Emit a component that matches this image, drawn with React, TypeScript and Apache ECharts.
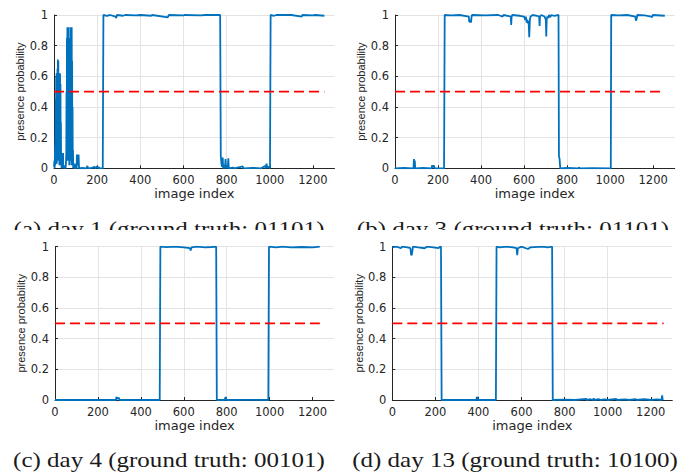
import React, { useEffect, useRef } from "react";
import * as echarts from "echarts";

// ---------- data ----------
const captions = [
  "(a) day 1 (ground truth: 01101)",
  "(b) day 3 (ground truth: 01101)",
  "(c) day 4 (ground truth: 00101)",
  "(d) day 13 (ground truth: 10100)",
];
const thresholdValue = 0.5;
const imageCounts = [1253, 1254, 1234, 1260];

const day1Prob: [number, number][] = [
  [0, 0.01], [2, 0.05], [3, 0.0], [5, 0.15], [6, 0.02], [8, 0.45], [9, 0.05], [10, 0.6], [11, 0.1], [12, 0.62],
  [13, 0.03], [14, 0.58], [15, 0.2], [16, 0.65], [17, 0.1], [18, 0.71], [19, 0.3], [20, 0.7], [21, 0.05], [22, 0.62],
  [23, 0.15], [24, 0.62], [25, 0.02], [26, 0.6], [27, 0.1], [28, 0.62], [29, 0.05], [30, 0.55], [31, 0.1], [32, 0.3],
  [33, 0.02], [34, 0.1], [35, 0.0], [36, 0.1], [37, 0.02], [38, 0.1], [39, 0.0], [40, 0.08], [41, 0.01], [42, 0.1],
  [43, 0.0], [45, 0.02], [47, 0.0], [50, 0.01], [53, 0.0], [55, 0.02],
  [57, 0.1], [58, 0.5], [59, 0.05], [60, 0.85], [61, 0.1], [62, 0.92], [63, 0.2], [64, 0.92], [65, 0.05], [66, 0.92],
  [67, 0.3], [68, 0.8], [69, 0.12], [70, 0.85], [71, 0.02], [72, 0.8], [73, 0.12], [74, 0.85], [75, 0.05], [76, 0.92],
  [77, 0.2], [78, 0.92], [79, 0.1], [80, 0.9], [81, 0.02], [82, 0.92], [83, 0.3], [84, 0.7], [85, 0.05], [86, 0.4],
  [87, 0.02], [88, 0.12], [89, 0.0],
  [92, 0.02], [94, 0.0], [96, 0.03], [98, 0.0], [105, 0.0], [106, 0.09], [108, 0.02], [110, 0.09], [112, 0.04],
  [114, 0.09], [116, 0.0], [130, 0.002], [150, 0.0], [155, 0.015], [157, 0.0], [175, 0.003], [188, 0.01], [190, 0.0],
  [200, 0.012], [203, 0.0], [207, 0.01], [210, 0.0], [226, 0.0], [229, 1.0],
  [245, 0.995], [260, 1.0], [285, 0.99], [288, 0.98], [292, 1.0], [320, 0.995], [330, 1.0], [380, 0.997], [400, 1.0],
  [450, 0.995], [455, 1.0], [528, 0.985], [532, 1.0], [600, 0.997], [605, 1.0], [680, 0.998], [700, 1.0], [770, 1.0],
  [773, 0.08], [776, 0.03], [779, 0.01], [782, 0.07], [784, 0.0], [790, 0.02], [792, 0.0], [795, 0.06], [797, 0.0],
  [803, 0.02], [805, 0.0], [808, 0.065], [810, 0.0], [830, 0.005], [835, 0.0], [875, 0.012], [878, 0.0], [920, 0.003],
  [960, 0.0], [978, 0.015], [981, 0.0], [985, 0.03], [988, 0.005], [995, 0.01], [1001, 0.0], [1004, 1.0],
  [1020, 0.995], [1030, 1.0], [1100, 1.0], [1148, 0.99], [1152, 1.0], [1200, 0.997], [1210, 1.0], [1253, 0.995],
];

const day3Prob: [number, number][] = [
  [0, 0.0], [40, 0.002], [86, 0.0], [88, 0.06], [90, 0.02], [92, 0.05], [94, 0.0], [130, 0.002], [170, 0.0],
  [173, 0.02], [176, 0.005], [180, 0.02], [184, 0.0], [228, 0.0], [231, 1.0],
  [260, 0.997], [300, 1.0], [343, 0.99], [345, 0.955], [347, 0.97], [349, 0.95], [351, 0.965], [353, 0.95],
  [356, 0.99], [358, 1.0], [420, 0.997], [480, 1.0], [500, 0.99], [505, 1.0], [538, 0.99], [540, 0.935],
  [542, 0.99], [545, 1.0], [580, 0.995], [600, 0.99], [605, 0.97], [608, 0.99], [612, 0.95], [615, 0.97],
  [618, 0.945], [621, 0.96], [624, 0.855], [627, 0.97], [630, 0.99], [640, 1.0], [660, 0.995], [670, 0.99],
  [672, 0.928], [674, 0.99], [680, 1.0], [695, 0.99], [701, 0.97], [703, 0.86], [705, 0.97], [708, 0.99],
  [712, 0.98], [716, 1.0], [722, 0.985], [726, 1.0], [740, 0.995], [760, 1.0],
  [762, 0.08], [765, 0.06], [768, 0.0], [800, 0.002], [853, 0.0], [855, 0.006], [858, 0.0], [920, 0.001],
  [1003, 0.0], [1005, 1.0],
  [1040, 0.997], [1080, 1.0], [1117, 0.99], [1120, 0.963], [1123, 0.975], [1126, 1.0], [1160, 0.997],
  [1192, 0.99], [1195, 0.985], [1198, 1.0], [1254, 0.995],
];

const day4Prob: [number, number][] = [
  [0, 0.0], [100, 0.001], [200, 0.0], [284, 0.0], [286, 0.02], [289, 0.005], [292, 0.018], [295, 0.008],
  [298, 0.015], [301, 0.0], [400, 0.001], [488, 0.0], [491, 1.0],
  [520, 0.997], [560, 1.0], [600, 0.996], [628, 0.99], [632, 0.976], [636, 0.995], [660, 1.0], [700, 0.996],
  [730, 0.998], [751, 1.0], [754, 0.0],
  [790, 0.0], [795, 0.02], [799, 0.0], [900, 0.001], [994, 0.0], [997, 1.0],
  [1030, 0.996], [1060, 1.0], [1100, 0.996], [1150, 0.998], [1200, 0.996], [1234, 1.0],
];

const day13Prob: [number, number][] = [
  [0, 0.995], [20, 1.0], [40, 0.99], [45, 1.0], [70, 0.995], [84, 0.99], [87, 0.95], [90, 0.944], [93, 0.97],
  [96, 1.0], [120, 0.995], [150, 0.99], [160, 1.0], [190, 0.995], [215, 0.99], [222, 1.0], [226, 1.0], [229, 0.0],
  [300, 0.001], [390, 0.0], [393, 0.02], [396, 0.01], [398, 0.0], [481, 0.0], [484, 1.0],
  [500, 0.995], [530, 1.0], [560, 0.995], [577, 0.99], [580, 0.944], [583, 0.99], [600, 1.0], [620, 0.99],
  [630, 0.985], [640, 0.995], [700, 1.0], [720, 0.995], [742, 1.0], [745, 0.0],
  [800, 0.003], [850, 0.0], [900, 0.008], [903, 0.0], [920, 0.005], [930, 0.0], [935, 0.01], [938, 0.0],
  [960, 0.006], [965, 0.0], [990, 0.004], [1000, 0.0], [1040, 0.007], [1043, 0.0], [1080, 0.004], [1100, 0.0],
  [1130, 0.006], [1133, 0.0], [1170, 0.005], [1200, 0.0], [1230, 0.004], [1250, 0.0], [1253, 0.03],
  [1255, 0.005], [1257, 0.0],
];

const allSeries = [day1Prob, day3Prob, day4Prob, day13Prob];

// ---------- layout ----------
const gridBoxes = [
  { left: 54, top: 15, width: 280.5, height: 153.3 },
  { left: 395, top: 15, width: 279.7, height: 153.3 },
  { left: 55, top: 246.7, width: 279, height: 153.3 },
  { left: 392.3, top: 246.7, width: 280, height: 153.3 },
];
const captionPos = [
  { x: 169, y: 228.3 },
  { x: 513, y: 228.3 },
  { x: 169, y: 460 },
  { x: 515, y: 460 },
];

const AXIS_COLOR = "#262626";
const GRID_COLOR = "#e3e3e3";
const BLUE = "#0072BD";
const RED = "#FF0000";

export default function App() {
  const ref = useRef<HTMLDivElement>(null);
  useEffect(() => {
    if (!ref.current) return;
    const chart = echarts.init(ref.current, undefined, { renderer: "svg" });

    const xAxis = gridBoxes.map((_, i) => ({
      type: "value",
      gridIndex: i,
      min: 0,
      max: 1300,
      interval: 200,
      name: "image index",
      nameLocation: "middle",
      nameGap: 18,
      nameTextStyle: { fontFamily: "DejaVu Sans", fontSize: 13, color: AXIS_COLOR },
      axisLine: { show: true, onZero: false, lineStyle: { color: AXIS_COLOR, width: 1 } },
      axisTick: {
        show: true, inside: true, length: 3, lineStyle: { color: AXIS_COLOR },
        customValues: [0, 200, 400, 600, 800, 1000, 1200],
      },
      axisLabel: {
        fontFamily: "DejaVu Sans", fontSize: 11.5, color: AXIS_COLOR, margin: 6,
        showMaxLabel: false,
        formatter: (v: number) => (v % 200 === 0 ? String(v) : ""),
      },
      splitLine: { show: true, showMaxLine: false, lineStyle: { color: GRID_COLOR, width: 1 } },
    }));

    const yAxis = gridBoxes.map((_, i) => ({
      type: "value",
      gridIndex: i,
      min: 0,
      max: 1,
      interval: 0.2,
      name: "presence probability",
      nameLocation: "middle",
      nameGap: 24,
      nameTextStyle: { fontFamily: "Liberation Sans", fontSize: 11, color: AXIS_COLOR },
      axisLine: { show: true, onZero: false, lineStyle: { color: AXIS_COLOR, width: 1 } },
      axisTick: { show: true, inside: true, length: 3, lineStyle: { color: AXIS_COLOR } },
      axisLabel: { fontFamily: "DejaVu Sans", fontSize: 11.5, color: AXIS_COLOR, margin: 6 },
      splitLine: { show: true, lineStyle: { color: GRID_COLOR, width: 1 } },
    }));

    const series: any[] = [];
    allSeries.forEach((d, i) => {
      series.push({
        type: "line",
        xAxisIndex: i,
        yAxisIndex: i,
        data: d,
        showSymbol: false,
        symbol: "none",
        lineStyle: { color: BLUE, width: 1.8 },
        z: 2,
      });
    });
    imageCounts.forEach((n, i) => {
      series.push({
        type: "line",
        xAxisIndex: i,
        yAxisIndex: i,
        data: [[0, thresholdValue], [n, thresholdValue]],
        showSymbol: false,
        symbol: "none",
        lineStyle: { color: RED, width: 1.6, type: [10, 5] },
        z: 3,
      });
    });

    const graphic: any[] = captions.map((t, i) => ({
      type: "text",
      x: captionPos[i].x,
      y: captionPos[i].y,
      scaleX: 1.164,
      z: 10,
      style: {
        text: t,
        font: '21.5px "Liberation Serif"',
        fill: "#1a1a1a",
        textAlign: "center",
        textVerticalAlign: "middle",
        verticalAlign: "middle",
      },
    }));
    graphic.push({
      type: "rect",
      shape: { x: 0, y: 230, width: 699, height: 11.5 },
      style: { fill: "#ffffff" },
      z: 20,
    });

    chart.setOption({
      animation: false,
      backgroundColor: "#ffffff",
      grid: gridBoxes.map((g) => ({ ...g, containLabel: false })),
      xAxis,
      yAxis,
      series,
      graphic,
    });
    return () => chart.dispose();
  }, []);
  return (
    <div
      ref={ref}
      style={{ position: "absolute", left: 0, top: 0, width: 699, height: 473 }}
    />
  );
}
